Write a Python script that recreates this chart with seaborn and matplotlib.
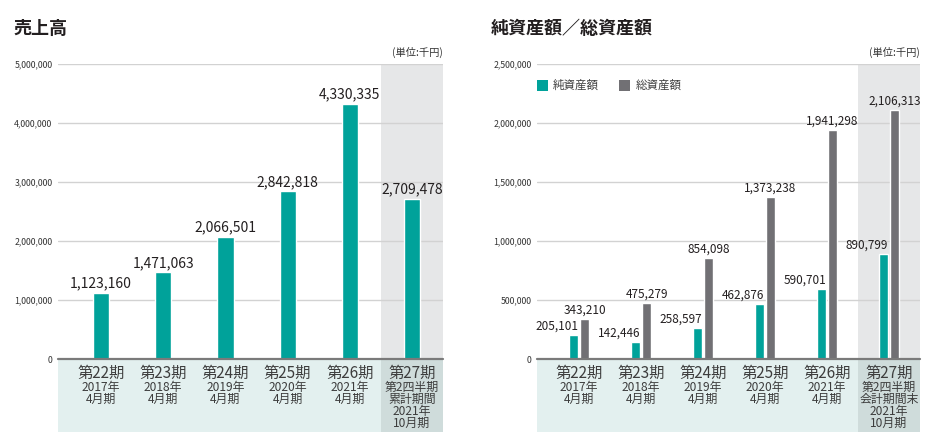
import seaborn as sns
import pandas as pd
import matplotlib.pyplot as plt
from matplotlib.ticker import FuncFormatter

periods = ["第22期", "第23期", "第24期", "第25期", "第26期", "第27期"]
sub_sales = [["2017年", "4月期"], ["2018年", "4月期"], ["2019年", "4月期"],
             ["2020年", "4月期"], ["2021年", "4月期"],
             ["第2四半期", "累計期間", "2021年", "10月期"]]
sub_assets = [["2017年", "4月期"], ["2018年", "4月期"], ["2019年", "4月期"],
              ["2020年", "4月期"], ["2021年", "4月期"],
              ["第2四半期", "会計期間末", "2021年", "10月期"]]
sales = [1123160, 1471063, 2066501, 2842818, 4330335, 2709478]
net_assets = [205101, 142446, 258597, 462876, 590701, 890799]
total_assets = [343210, 475279, 854098, 1373238, 1941298, 2106313]

TEAL = "#00a29a"
GRAY = "#717074"
TXT = "#231f20"
BAND = "#e3f0ef"
SHADE = "#e6e7e8"
SHADE2 = "#cfdcdb"

sns.set_theme(style="white")
plt.rcParams['font.family'] = ['Noto Sans CJK JP', 'DejaVu Sans']

fig = plt.figure(figsize=(9.34, 4.44), dpi=100)
W, H = 934, 444


def make_ax(x0, x1):
    return fig.add_axes([x0 / W, (H - 359) / H, (x1 - x0) / W, 295 / H])


def decorate(ax, ymax, step, subs, left_pad):
    ax.set_xlim(-0.5 - left_pad, 5.5)
    ax.set_ylim(0, ymax)
    ax.set_yticks(range(0, ymax + 1, step))
    ax.yaxis.set_major_formatter(FuncFormatter(lambda v, p: f"{int(v):,}"))
    ax.tick_params(axis="y", labelsize=6.3, colors="#333333", length=0, pad=4)
    ax.set_xticks([])
    ax.set_xlabel("")
    ax.set_ylabel("")
    for s in ax.spines.values():
        s.set_visible(False)
    ax.grid(axis="y", color="#d2d2d2", lw=1.0, zorder=1)
    ax.set_axisbelow(True)
    ax.axhline(0, color="#7a7a7a", lw=1.6, zorder=5, clip_on=False)
    ax.axvspan(4.5, 5.5, color=SHADE, zorder=0, lw=0)
    tr = ax.get_xaxis_transform()
    band_h = 73 / 295
    ax.add_patch(plt.Rectangle((-0.5 - left_pad, -band_h), 6 + left_pad, band_h,
                               transform=tr, color=BAND, lw=0, clip_on=False, zorder=0))
    ax.add_patch(plt.Rectangle((4.5, -band_h), 1, band_h,
                               transform=tr, color=SHADE2, lw=0, clip_on=False, zorder=0))
    for i, (p, sub) in enumerate(zip(periods, subs)):
        ax.text(i, -14 / 295, p, transform=tr, ha="center", va="center",
                fontsize=11, color="#3d3d3d")
        for j, s in enumerate(sub):
            ax.text(i, -(28 + 12.3 * j) / 295, s, transform=tr, ha="center",
                    va="center", fontsize=8.6, color="#3d3d3d")
    ax.text(1.0, 1.02, "(単位:千円)", transform=ax.transAxes, ha="right",
            va="bottom", fontsize=7.4, color="#333333")


# --- left: sales ---
ax1 = make_ax(58, 443)
df1 = pd.DataFrame({"period": periods, "sales": sales})
sns.barplot(data=df1, x="period", y="sales", color=TEAL, width=0.26,
            saturation=1, ax=ax1, zorder=3)
decorate(ax1, 5000000, 1000000, sub_sales, 12 / 62)
for i, v in enumerate(sales):
    ax1.text(i, v + 40000, f"{v:,}", ha="center", va="bottom", fontsize=10,
             color=TXT, zorder=6)
fig.text(13 / W, 1 - 28 / H, "売上高", fontsize=13, fontweight="bold",
         color=TXT, va="center")

# --- right: assets ---
ax2 = make_ax(537, 920)
df2 = pd.DataFrame({
    "period": periods * 2,
    "value": net_assets + total_assets,
    "kind": ["純資産額"] * 6 + ["総資産額"] * 6,
})
sns.barplot(data=df2, x="period", y="value", hue="kind",
            palette=[TEAL, GRAY], width=0.355, gap=0.15, saturation=1,
            ax=ax2, zorder=3, legend=False)
decorate(ax2, 2500000, 500000, sub_assets, 11 / 62)
bw = 0.355 / 2
for i, (n, t) in enumerate(zip(net_assets, total_assets)):
    ax2.text(i - bw * 0.075, n + 20000, f"{n:,}", ha="right", va="bottom",
             fontsize=8.5, color=TXT, zorder=6)
    ax2.text(i + bw / 2, t + 20000, f"{t:,}", ha="center", va="bottom",
             fontsize=8.5, color=TXT, zorder=6)
fig.text(491 / W, 1 - 28 / H, "純資産額／総資産額", fontsize=13,
         fontweight="bold", color=TXT, va="center")

# legend
for lx, tx, c, lab in [(537, 553, TEAL, "純資産額"), (619, 636, GRAY, "総資産額")]:
    fig.patches.append(plt.Rectangle((lx / W, 1 - 91 / H), 11 / W, 11 / H,
                                     transform=fig.transFigure, color=c, lw=0))
    fig.text(tx / W, 1 - 85.5 / H, lab, fontsize=8.3, color="#3d3d3d", va="center")

fig.savefig("out.png", dpi=100)
